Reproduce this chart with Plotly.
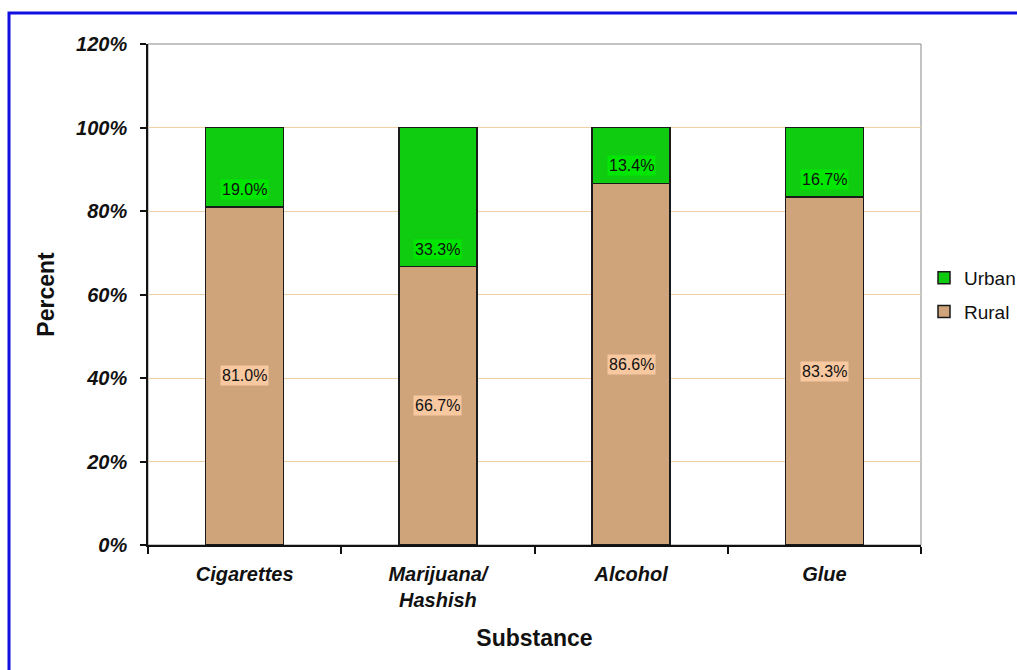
import plotly.graph_objects as go

categories = ["Cigarettes", "Marijuana/<br>Hashish", "Alcohol", "Glue"]
rural = [81.0, 66.7, 86.6, 83.3]
urban = [19.0, 33.3, 13.4, 16.7]
y_ticks = [0, 20, 40, 60, 80, 100, 120]
y_tick_labels = ["0%", "20%", "40%", "60%", "80%", "100%", "120%"]

FONT = "Arial, Liberation Sans, sans-serif"
RURAL_COLOR = "#CFA47A"
URBAN_COLOR = "#10CC10"

fig = go.Figure()
fig.add_trace(go.Bar(
    x=categories, y=rural, name="Rural", marker=dict(color=RURAL_COLOR, line=dict(color="#1a1a1a", width=1.5)),
    width=0.404, legendgroup="r", legendrank=2, hoverinfo="skip"))
fig.add_trace(go.Bar(
    x=categories, y=urban, name="Urban", marker=dict(color=URBAN_COLOR, line=dict(color="#1a1a1a", width=1.5)),
    width=0.404, legendgroup="u", legendrank=1, hoverinfo="skip"))

annotations = []
for c, r, u in zip(categories, rural, urban):
    annotations.append(dict(x=c, y=r / 2, xref="x", yref="y", text=f"{r:.1f}%", showarrow=False,
                            font=dict(family=FONT, size=16, color="#111"), bgcolor="#F8C8A0",
                            borderpad=1, yanchor="middle"))
    annotations.append(dict(x=c, y=r, xref="x", yref="y", text=f"{u:.1f}%", showarrow=False,
                            font=dict(family=FONT, size=16, color="#111"), bgcolor="#00E600",
                            borderpad=1, yanchor="bottom", yshift=7))
fig.update_layout(annotations=annotations)

L, R, T, B = 148, 1017 - 921, 44, 670 - 545
pw, ph = 1017 - L - R, 670 - T - B

fig.update_layout(
    width=1017, height=670,
    margin=dict(l=L, r=R, t=T, b=B, autoexpand=False),
    barmode="stack",
    paper_bgcolor="white", plot_bgcolor="white",
    font=dict(family=FONT, color="#111"),
    showlegend=True,
    legend=dict(x=(924 - L) / pw, y=(545 - 295) / ph, xanchor="left", yanchor="middle",
                traceorder="grouped", tracegroupgap=6,
                font=dict(family=FONT, size=19, color="#111"), itemwidth=30),
    xaxis=dict(
        title=dict(text="<b>Substance</b>", font=dict(family=FONT, size=23, color="#111"), standoff=20),
        tickfont=dict(family=FONT, size=20, color="#111", weight="bold", style="italic"),
        ticklabelstandoff=10,
        showline=True, linecolor="#111", linewidth=1.5,
        ticks="outside", ticklen=7, tickcolor="#111", tickwidth=1.5,
        tickson="boundaries", showgrid=False, fixedrange=True,
    ),
    yaxis=dict(
        title=dict(text="<b>Percent</b>", font=dict(family=FONT, size=23, color="#111"), standoff=15),
        range=[0, 120], tickvals=y_ticks, ticktext=y_tick_labels,
        tickfont=dict(family=FONT, size=20, color="#111", weight="bold", style="italic"),
        ticklabelstandoff=9,
        showline=True, linecolor="#111", linewidth=1.5,
        ticks="outside", ticklen=6, tickcolor="#111", tickwidth=1.5,
        showgrid=True, gridcolor="#F0CFA6", gridwidth=1, zeroline=False, fixedrange=True,
    ),
    shapes=[
        dict(type="rect", xref="paper", yref="paper", x0=0, x1=1, y0=0, y1=1,
             line=dict(color="#888", width=1), layer="below"),
        dict(type="rect", xref="paper", yref="paper",
             x0=(9 - L) / pw, x1=1.3, y0=-0.4, y1=(545 - 13) / ph,
             line=dict(color="#1010E0", width=3), layer="above"),
    ],
)

fig.write_html("out.html")
